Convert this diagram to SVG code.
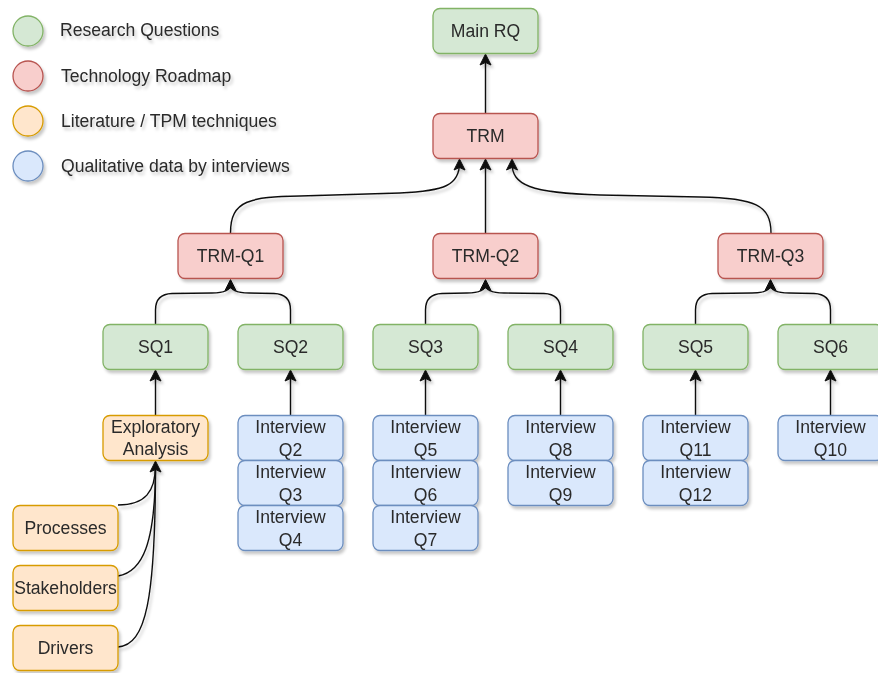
<svg xmlns="http://www.w3.org/2000/svg" xmlns:xlink="http://www.w3.org/1999/xlink" width="878" height="673" viewBox="0 0 878 673">
  <style>
    text { font-family: "Liberation Sans", Arial, Helvetica, sans-serif; font-size: 17.6px; fill: #2a2a2a; text-anchor: middle; }
    .legend text { text-anchor: start; }
    .box { stroke-width: 1.3; }
    .rq { fill: #d5e8d4; stroke: #82b366; }
    .trm { fill: #f8cecc; stroke: #b85450; }
    .lit { fill: #ffe6cc; stroke: #d79b00; }
    .int { fill: #dae8fc; stroke: #6c8ebf; }
    .edge { fill: none; stroke: #111; stroke-width: 1.4; }
    .head { fill: #111; stroke: #111; stroke-width: 1; stroke-linejoin: miter; }
    .shadow { filter: url(#drop); }
  </style>
  <defs>
    <filter id="drop" x="-20%" y="-20%" width="140%" height="160%">
      <feDropShadow dx="2" dy="3" stdDeviation="1.5" flood-color="#000" flood-opacity="0.22"/>
    </filter>
    <!-- upward block arrowhead, tip at the origin -->
    <path id="ah" class="head" d="M0,0.5 L-5.5,11.5 L0,9 L5.5,11.5 Z"/>
  </defs>
  <rect width="878" height="673" fill="#fff"/>

  <!-- legend -->
  <g id="legend" class="legend shadow">
    <circle cx="28" cy="31" r="15" class="box rq"/>
    <text x="60" y="36">Research Questions</text>
    <circle cx="28" cy="76" r="15" class="box trm"/>
    <text x="61" y="82">Technology Roadmap</text>
    <circle cx="28" cy="121" r="15" class="box lit"/>
    <text x="61" y="127">Literature / TPM techniques</text>
    <circle cx="28" cy="166" r="15" class="box int"/>
    <text x="61" y="172">Qualitative data by interviews</text>
  </g>

  <!-- connectors -->
  <g id="connectors" class="shadow">
    <path class="edge" d="M485.5,113.5 L485.5,58"/>
    <path class="edge" d="M230.5,233 C230.5,200 250,197 300,196 L400,193 C445,191 459.5,185 459.5,163"/>
    <path class="edge" d="M485.5,233 L485.5,163"/>
    <path class="edge" d="M771,233 C771,205 755,198 700,197 L600,195 C530,193 512,185 512,163"/>

    <path class="edge" d="M155.5,324 L155.5,310 Q155.5,294 172,293.5 L212,293 Q230.5,293 230.5,284"/>
    <path class="edge" d="M290.5,324 L290.5,310 Q290.5,294 274,293.5 L249,293 Q230.5,293 230.5,284"/>
    <path class="edge" d="M425.5,324 L425.5,310 Q425.5,294 442,293.5 L467,293 Q485.5,293 485.5,284"/>
    <path class="edge" d="M560.5,324 L560.5,310 Q560.5,294 544,293.5 L504,293 Q485.5,293 485.5,284"/>
    <path class="edge" d="M695.5,324 L695.5,310 Q695.5,294 712,293.5 L752,293 Q770.5,293 770.5,284"/>
    <path class="edge" d="M830.5,324 L830.5,310 Q830.5,294 814,293.5 L789,293 Q770.5,293 770.5,284"/>

    <path class="edge" d="M155.5,415 L155.5,374"/>
    <path class="edge" d="M290.5,415 L290.5,374"/>
    <path class="edge" d="M425.5,415 L425.5,374"/>
    <path class="edge" d="M560.5,415 L560.5,374"/>
    <path class="edge" d="M695.5,415 L695.5,374"/>
    <path class="edge" d="M830.5,415 L830.5,374"/>

    <path class="edge" d="M118,505 C145,505 155.5,492 155.5,465"/>
    <path class="edge" d="M118,576 C142,572 155.5,545 155.5,465"/>
    <path class="edge" d="M118,647 C146,645 155.5,600 155.5,465"/>

    <!-- arrowheads -->
    <use xlink:href="#ah" href="#ah" x="485.5" y="53.5"/>
    <use xlink:href="#ah" href="#ah" x="459.5" y="158.5"/>
    <use xlink:href="#ah" href="#ah" x="485.5" y="158.5"/>
    <use xlink:href="#ah" href="#ah" x="512" y="158.5"/>
    <use xlink:href="#ah" href="#ah" x="230.5" y="279"/>
    <use xlink:href="#ah" href="#ah" x="485.5" y="279"/>
    <use xlink:href="#ah" href="#ah" x="770.5" y="279"/>
    <use xlink:href="#ah" href="#ah" x="155.5" y="369.5"/>
    <use xlink:href="#ah" href="#ah" x="290.5" y="369.5"/>
    <use xlink:href="#ah" href="#ah" x="425.5" y="369.5"/>
    <use xlink:href="#ah" href="#ah" x="560.5" y="369.5"/>
    <use xlink:href="#ah" href="#ah" x="695.5" y="369.5"/>
    <use xlink:href="#ah" href="#ah" x="830.5" y="369.5"/>
    <use xlink:href="#ah" href="#ah" x="155.5" y="460.5"/>
  </g>

  <!-- research questions -->
  <g id="main-rq" class="shadow">
    <rect x="433" y="8.5" width="105" height="45" rx="7" class="box rq"/>
    <text x="485.5" y="37">Main RQ</text>
  </g>
  <g id="trm" class="shadow">
    <rect x="433" y="113.5" width="105" height="45" rx="7" class="box trm"/>
    <text x="485.5" y="142">TRM</text>
  </g>
  <g id="trm-q1" class="shadow">
    <rect x="178" y="233.5" width="105" height="45" rx="7" class="box trm"/>
    <text x="230.5" y="262">TRM-Q1</text>
  </g>
  <g id="trm-q2" class="shadow">
    <rect x="433" y="233.5" width="105" height="45" rx="7" class="box trm"/>
    <text x="485.5" y="262">TRM-Q2</text>
  </g>
  <g id="trm-q3" class="shadow">
    <rect x="718" y="233.5" width="105" height="45" rx="7" class="box trm"/>
    <text x="770.5" y="262">TRM-Q3</text>
  </g>

  <g id="sq1" class="shadow">
    <rect x="103" y="324.5" width="105" height="45" rx="7" class="box rq"/>
    <text x="155.5" y="353">SQ1</text>
  </g>
  <g id="sq2" class="shadow">
    <rect x="238" y="324.5" width="105" height="45" rx="7" class="box rq"/>
    <text x="290.5" y="353">SQ2</text>
  </g>
  <g id="sq3" class="shadow">
    <rect x="373" y="324.5" width="105" height="45" rx="7" class="box rq"/>
    <text x="425.5" y="353">SQ3</text>
  </g>
  <g id="sq4" class="shadow">
    <rect x="508" y="324.5" width="105" height="45" rx="7" class="box rq"/>
    <text x="560.5" y="353">SQ4</text>
  </g>
  <g id="sq5" class="shadow">
    <rect x="643" y="324.5" width="105" height="45" rx="7" class="box rq"/>
    <text x="695.5" y="353">SQ5</text>
  </g>
  <g id="sq6" class="shadow">
    <rect x="778" y="324.5" width="105" height="45" rx="7" class="box rq"/>
    <text x="830.5" y="353">SQ6</text>
  </g>

  <!-- literature / TPM techniques -->
  <g id="exploratory-analysis" class="shadow">
    <rect x="103" y="415.5" width="105" height="45" rx="7" class="box lit"/>
    <text x="155.5" y="433">Exploratory</text>
    <text x="155.5" y="455">Analysis</text>
  </g>
  <g id="processes" class="shadow">
    <rect x="13" y="505.5" width="105" height="45" rx="7" class="box lit"/>
    <text x="65.5" y="534">Processes</text>
  </g>
  <g id="stakeholders" class="shadow">
    <rect x="13" y="565.5" width="105" height="45" rx="7" class="box lit"/>
    <text x="65.5" y="594">Stakeholders</text>
  </g>
  <g id="drivers" class="shadow">
    <rect x="13" y="625.5" width="105" height="45" rx="7" class="box lit"/>
    <text x="65.5" y="654">Drivers</text>
  </g>

  <!-- interview questions -->
  <g id="interview-q2" class="shadow">
    <rect x="238" y="415.5" width="105" height="45" rx="7" class="box int"/>
    <text x="290.5" y="433">Interview</text>
    <text x="290.5" y="456">Q2</text>
  </g>
  <g id="interview-q3" class="shadow">
    <rect x="238" y="460.5" width="105" height="45" rx="7" class="box int"/>
    <text x="290.5" y="478">Interview</text>
    <text x="290.5" y="501">Q3</text>
  </g>
  <g id="interview-q4" class="shadow">
    <rect x="238" y="505.5" width="105" height="45" rx="7" class="box int"/>
    <text x="290.5" y="523">Interview</text>
    <text x="290.5" y="546">Q4</text>
  </g>
  <g id="interview-q5" class="shadow">
    <rect x="373" y="415.5" width="105" height="45" rx="7" class="box int"/>
    <text x="425.5" y="433">Interview</text>
    <text x="425.5" y="456">Q5</text>
  </g>
  <g id="interview-q6" class="shadow">
    <rect x="373" y="460.5" width="105" height="45" rx="7" class="box int"/>
    <text x="425.5" y="478">Interview</text>
    <text x="425.5" y="501">Q6</text>
  </g>
  <g id="interview-q7" class="shadow">
    <rect x="373" y="505.5" width="105" height="45" rx="7" class="box int"/>
    <text x="425.5" y="523">Interview</text>
    <text x="425.5" y="546">Q7</text>
  </g>
  <g id="interview-q8" class="shadow">
    <rect x="508" y="415.5" width="105" height="45" rx="7" class="box int"/>
    <text x="560.5" y="433">Interview</text>
    <text x="560.5" y="456">Q8</text>
  </g>
  <g id="interview-q9" class="shadow">
    <rect x="508" y="460.5" width="105" height="45" rx="7" class="box int"/>
    <text x="560.5" y="478">Interview</text>
    <text x="560.5" y="501">Q9</text>
  </g>
  <g id="interview-q11" class="shadow">
    <rect x="643" y="415.5" width="105" height="45" rx="7" class="box int"/>
    <text x="695.5" y="433">Interview</text>
    <text x="695.5" y="456">Q11</text>
  </g>
  <g id="interview-q12" class="shadow">
    <rect x="643" y="460.5" width="105" height="45" rx="7" class="box int"/>
    <text x="695.5" y="478">Interview</text>
    <text x="695.5" y="501">Q12</text>
  </g>
  <g id="interview-q10" class="shadow">
    <rect x="778" y="415.5" width="105" height="45" rx="7" class="box int"/>
    <text x="830.5" y="433">Interview</text>
    <text x="830.5" y="456">Q10</text>
  </g>
</svg>
